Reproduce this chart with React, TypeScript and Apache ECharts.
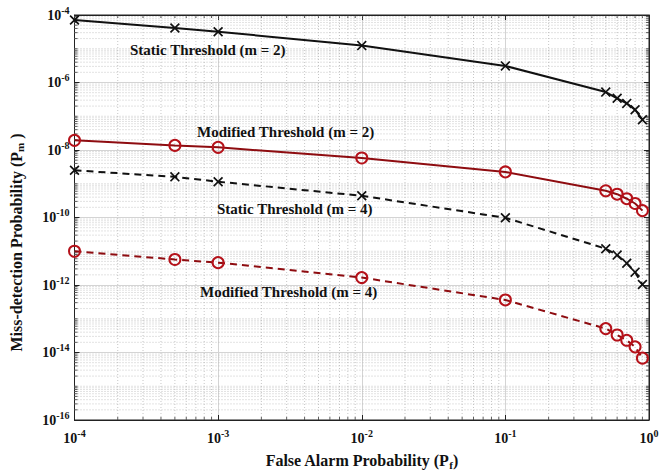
import React, { useEffect, useRef } from "react";
import * as echarts from "echarts";

const pf = [1e-4, 5e-4, 1e-3, 1e-2, 1e-1, 0.5, 0.6, 0.7, 0.8, 0.9];
const staticM2 = [7.1e-5, 4.1e-5, 3.2e-5, 1.24e-5, 3.1e-6, 5.2e-7, 3.4e-7, 2.4e-7, 1.56e-7, 7.9e-8];
const modifiedM2 = [1.93e-8, 1.37e-8, 1.2e-8, 5.8e-9, 2.24e-9, 6.2e-10, 4.9e-10, 3.6e-10, 2.6e-10, 1.6e-10];
const staticM4 = [2.5e-9, 1.6e-9, 1.15e-9, 4.4e-10, 9.8e-11, 1.19e-11, 7.7e-12, 4.4e-12, 2.4e-12, 1.04e-12];
const modifiedM4 = [1.0e-11, 5.7e-12, 4.6e-12, 1.66e-12, 3.6e-13, 5.1e-14, 3.3e-14, 2.3e-14, 1.47e-14, 6.8e-15];

const seriesNames = [
  "Static Threshold (m = 2)",
  "Modified Threshold (m = 2)",
  "Static Threshold (m = 4)",
  "Modified Threshold (m = 4)",
];
const xName = "False Alarm Probability (P";
const xSub = "f";
const yName = "Miss-detection Probability (P";
const ySub = "m";

const X_MIN = 1e-4, X_MAX = 1;
const Y_MIN = 1e-16, Y_MAX = 1e-4;

const FONT = '"Liberation Serif", "Times New Roman", serif';
const RED_LINE = "#8e0c10";
const RED_MARK = "#b5121a";

// minor grid positions (k x 10^n)
const xMinor: number[] = [];
for (let n = -4; n < 0; n++) for (let k = 2; k <= 9; k++) xMinor.push(k * Math.pow(10, n));
const yMinor: number[] = [];
for (let n = -16; n < -4; n++) {
  for (let k = 1; k <= 9; k++) {
    if (k === 1 && n % 2 === 0) continue;
    yMinor.push(k * Math.pow(10, n));
  }
}

const xMark = "path://M1.2,0 L5,3.8 L8.8,0 L10,1.2 L6.2,5 L10,8.8 L8.8,10 L5,6.2 L1.2,10 L0,8.8 L3.8,5 L0,1.2 Z";

const tickRich = {
  b: { fontSize: 14, fontWeight: "bold" as const, fontFamily: FONT, color: "#111" },
  s: { fontSize: 10, fontWeight: "bold" as const, fontFamily: FONT, color: "#111", padding: [0, 0, 10, 0] },
};

const expFmt = (v: number) => `{b|10}{s|${Math.round(Math.log10(v))}}`;

export default function App() {
  const ref = useRef<HTMLDivElement>(null);
  useEffect(() => {
    if (!ref.current) return;
    const chart = echarts.init(ref.current, undefined, { renderer: "svg" });

    const vGrid = {
      type: "custom",
      silent: true,
      xAxisIndex: 0,
      yAxisIndex: 0,
      z: 1,
      data: xMinor.map((v) => [v, 1e-10]),
      renderItem: (params: any, api: any) => {
        const v = api.value(0);
        const p1 = api.coord([v, Y_MIN]);
        const p2 = api.coord([v, Y_MAX]);
        return {
          type: "group",
          children: [
            { type: "line", shape: { x1: p1[0], y1: p1[1], x2: p2[0], y2: p2[1] }, style: { stroke: "#b8b8b8", lineWidth: 0.8, lineDash: [1, 2] } },
            { type: "line", shape: { x1: p1[0], y1: p1[1], x2: p1[0], y2: p1[1] - 3 }, style: { stroke: "#333", lineWidth: 0.8 } },
            { type: "line", shape: { x1: p2[0], y1: p2[1], x2: p2[0], y2: p2[1] + 3 }, style: { stroke: "#333", lineWidth: 0.8 } },
          ],
        };
      },
    };
    const hGrid = {
      type: "custom",
      silent: true,
      xAxisIndex: 0,
      yAxisIndex: 0,
      z: 1,
      data: yMinor.map((v) => [1e-2, v]),
      renderItem: (params: any, api: any) => {
        const v = api.value(1);
        const p1 = api.coord([X_MIN, v]);
        const p2 = api.coord([X_MAX, v]);
        return {
          type: "group",
          children: [
            { type: "line", shape: { x1: p1[0], y1: p1[1], x2: p2[0], y2: p2[1] }, style: { stroke: "#b8b8b8", lineWidth: 0.8, lineDash: [1, 2] } },
            { type: "line", shape: { x1: p1[0], y1: p1[1], x2: p1[0] + 3, y2: p1[1] }, style: { stroke: "#333", lineWidth: 0.8 } },
            { type: "line", shape: { x1: p2[0], y1: p2[1], x2: p2[0] - 3, y2: p2[1] }, style: { stroke: "#333", lineWidth: 0.8 } },
          ],
        };
      },
    };

    const mk = (name: string, data: number[], color: string, markColor: string, dashed: boolean, cross: boolean) => ({
      name,
      type: "line",
      z: 5,
      data: pf.map((x, i) => [x, data[i]]),
      lineStyle: { color, width: 2, type: dashed ? [7, 5] : "solid" },
      symbol: cross ? xMark : "circle",
      symbolSize: cross ? 10 : 11,
      showSymbol: true,
      itemStyle: cross
        ? { color: markColor, borderWidth: 0 }
        : { color: "rgba(0,0,0,0)", borderColor: markColor, borderWidth: 2 },
    });

    const labelStyle = (text: string, x: number, y: number) => ({
      type: "text",
      left: x,
      top: y,
      z: 10,
      style: { text, font: `bold 15px ${FONT}`, fill: "#111" },
    });

    chart.setOption({
      animation: false,
      backgroundColor: "#fff",
      grid: { left: 70, top: 15, width: 579, height: 406, show: true, borderColor: "#222", borderWidth: 1, containLabel: false },
      xAxis: [
        {
          type: "log",
          logBase: 10,
          min: X_MIN,
          max: X_MAX,
          interval: 1,
          name: `{b|${xName}}{sub|${xSub}}{b|)}`,
          nameLocation: "middle",
          nameGap: 31,
          nameTextStyle: {
            rich: {
              b: { fontSize: 16, fontWeight: "bold", fontFamily: FONT, color: "#111" },
              sub: { fontSize: 11, fontWeight: "bold", fontFamily: FONT, color: "#111", padding: [8, 0, 0, 0] },
            },
          },
          axisLine: { show: true, lineStyle: { color: "#222", width: 1 } },
          axisTick: { show: true, inside: true, length: 5, lineStyle: { color: "#222" } },
          axisLabel: { formatter: expFmt, rich: tickRich, margin: 8 },
          splitLine: { show: true, lineStyle: { color: "#d4d4d4", width: 1 } },
        },
        {
          type: "log",
          logBase: 10,
          position: "top",
          min: X_MIN,
          max: X_MAX,
          interval: 1,
          axisLine: { show: true, lineStyle: { color: "#222" } },
          axisTick: { show: true, inside: true, length: 5, lineStyle: { color: "#222" } },
          axisLabel: { show: false },
          splitLine: { show: false },
        },
      ],
      yAxis: [
        {
          type: "log",
          logBase: 10,
          min: Y_MIN,
          max: Y_MAX,
          interval: 2,
          name: `{b|${yName}}{sub|${ySub}}{b| )}`,
          nameLocation: "middle",
          nameRotate: 90,
          nameGap: 49,
          nameTextStyle: {
            padding: [0, 50, 0, 0],
            rich: {
              b: { fontSize: 16, fontWeight: "bold", fontFamily: FONT, color: "#111" },
              sub: { fontSize: 11, fontWeight: "bold", fontFamily: FONT, color: "#111", padding: [8, 0, 0, 0] },
            },
          },
          axisLine: { show: true, lineStyle: { color: "#222", width: 1 } },
          axisTick: { show: true, inside: true, length: 5, lineStyle: { color: "#222" } },
          axisLabel: { formatter: expFmt, rich: tickRich, margin: 5 },
          splitLine: { show: true, lineStyle: { color: "#d4d4d4", width: 1 } },
        },
        {
          type: "log",
          logBase: 10,
          position: "right",
          min: Y_MIN,
          max: Y_MAX,
          interval: 2,
          axisLine: { show: true, lineStyle: { color: "#222" } },
          axisTick: { show: true, inside: true, length: 5, lineStyle: { color: "#222" } },
          axisLabel: { show: false },
          splitLine: { show: false },
        },
      ],
      series: [
        vGrid,
        hGrid,
        mk(seriesNames[0], staticM2, "#111", "#111", false, true),
        mk(seriesNames[1], modifiedM2, RED_LINE, RED_MARK, false, false),
        mk(seriesNames[2], staticM4, "#111", "#111", true, true),
        mk(seriesNames[3], modifiedM4, RED_LINE, RED_MARK, true, false),
      ],
      graphic: [
        labelStyle(seriesNames[0], 130, 42),
        labelStyle(seriesNames[1], 197, 124),
        labelStyle(seriesNames[2], 217, 201),
        labelStyle(seriesNames[3], 200, 284),
      ],
    });
    return () => chart.dispose();
  }, []);
  return <div ref={ref} style={{ position: "fixed", left: 0, top: 0, width: 662, height: 475 }} />;
}
